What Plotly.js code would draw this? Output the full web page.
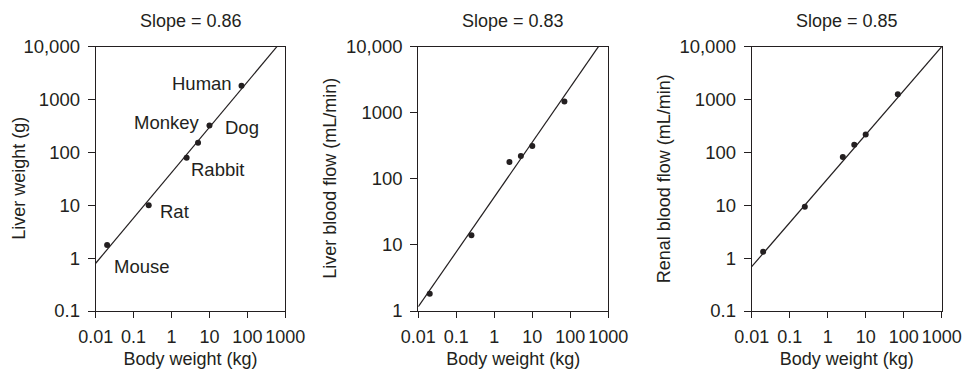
<!DOCTYPE html>
<html>
<head>
<meta charset="utf-8">
<script src="https://cdn.plot.ly/plotly-3.0.1.min.js"></script>
<style>html,body{margin:0;padding:0;background:#fff;}#chart{width:964px;height:369px;}</style>
</head>
<body>
<div id="chart"></div>
<script>
// Species and body weights (kg)
const species = ["Mouse", "Rat", "Rabbit", "Monkey", "Dog", "Human"];
const bodyWeight = [0.02, 0.25, 2.5, 5, 10, 70];

// Panel 1: liver weight (g)
const liverWeight = [1.77, 10, 79, 152, 324, 1820];
// Panel 2: liver blood flow (mL/min)
const liverBloodFlow = [1.83, 14, 180, 221, 313, 1480];
// Panel 3: renal blood flow (mL/min)
const renalBloodFlow = [1.32, 9.4, 82, 140, 219, 1260];

// Fitted allometric lines (end points)
const fit1X = [0.01, 600], fit1Y = [0.8, 10000];
const fit2X = [0.01, 550], fit2Y = [1.16, 10000];
const fit3X = [0.01, 1000], fit3Y = [0.69, 10000];

const panelTitles = ["Slope = 0.86", "Slope = 0.83", "Slope = 0.85"];
const yTitles = ["Liver weight (g)", "Liver blood flow (mL/min)", "Renal blood flow (mL/min)"];
const xTitle = "Body weight (kg)";

const xTickVals = [0.01, 0.1, 1, 10, 100, 1000];
const xTickText = ["0.01", "0.1", "1", "10", "100", "1000"];
const yTickVals = [0.1, 1, 10, 100, 1000, 10000];
const yTickText = ["0.1", "1", "10", "100", "1000", "10,000"];

// Species label positions on panel 1 (log10 units)
const labelX = [-0.79, 0.07, 1.22, -0.13, 1.87, 0.80];
const labelY = [-0.16, 0.88, 1.68, 2.56, 2.48, 3.30];

const FONT = "Liberation Sans, Arial, Helvetica, sans-serif";
const INK = "#231f20";
const W = 964, H = 369;
const px = v => v / W;
const py = v => 1 - v / H;

const xDomains = [[px(95.7), px(285.3)], [px(418.3), px(608.3)], [px(751.7), px(941.7)]];
const yDomain = [py(311), py(46.7)];
const yRanges = [[-1, 4], [0, 4], [-1, 4]];
const yTitleX = [px(19), px(330), px(663.5)];

const dataSets = [liverWeight, liverBloodFlow, renalBloodFlow];
const fits = [[fit1X, fit1Y], [fit2X, fit2Y], [fit3X, fit3Y]];

const traces = [];
const layout = {
  width: W, height: H,
  margin: {l: 0, r: 0, t: 0, b: 0},
  paper_bgcolor: "#fff", plot_bgcolor: "#fff",
  showlegend: false,
  font: {family: FONT, size: 18, color: INK},
  annotations: [],
};

for (let i = 0; i < 3; i++) {
  const n = i === 0 ? "" : String(i + 1);
  traces.push({
    x: fits[i][0], y: fits[i][1], xaxis: "x" + n, yaxis: "y" + n,
    mode: "lines", type: "scatter", line: {color: INK, width: 1.2},
    hoverinfo: "skip"
  });
  traces.push({
    x: bodyWeight, y: dataSets[i], xaxis: "x" + n, yaxis: "y" + n,
    mode: "markers", type: "scatter", text: species,
    marker: {color: INK, size: 6}
  });
  layout["xaxis" + n] = {
    type: "log", domain: xDomains[i], range: [-2, 3], anchor: "y" + n,
    tickvals: xTickVals, ticktext: xTickText, ticks: "outside", ticklen: 6, tickwidth: 1,
    tickcolor: INK, showline: true, linecolor: INK, linewidth: 1, mirror: true,
    showgrid: false, zeroline: false, tickangle: 0, ticklabelstandoff: 3,
    tickfont: {family: FONT, size: 18, color: INK},
    title: {text: xTitle, font: {family: FONT, size: 18, color: INK}, standoff: 13}
  };
  layout["yaxis" + n] = {
    type: "log", domain: yDomain, range: yRanges[i], anchor: "x" + n,
    tickvals: yTickVals, ticktext: yTickText, ticks: "outside", ticklen: 7, tickwidth: 1,
    tickcolor: INK, showline: true, linecolor: INK, linewidth: 1, mirror: true,
    showgrid: false, zeroline: false, ticklabelstandoff: 4,
    tickfont: {family: FONT, size: 18.5, color: INK}
  };
  // panel title
  layout.annotations.push({
    text: panelTitles[i], xref: "paper", yref: "paper",
    x: (xDomains[i][0] + xDomains[i][1]) / 2, y: py(21),
    xanchor: "center", yanchor: "middle", showarrow: false,
    font: {family: FONT, size: 18, color: INK}
  });
  // y-axis title
  layout.annotations.push({
    text: yTitles[i], xref: "paper", yref: "paper",
    x: yTitleX[i], y: (yDomain[0] + yDomain[1]) / 2, textangle: -90,
    xanchor: "center", yanchor: "middle", showarrow: false,
    font: {family: FONT, size: 18, color: INK}
  });
}

for (let k = 0; k < species.length; k++) {
  layout.annotations.push({
    text: species[k], xref: "x", yref: "y", x: labelX[k], y: labelY[k],
    xanchor: "center", yanchor: "middle", showarrow: false,
    font: {family: FONT, size: 18.5, color: INK}
  });
}

Plotly.newPlot("chart", traces, layout, {displayModeBar: false, staticPlot: true});
</script>
</body>
</html>
